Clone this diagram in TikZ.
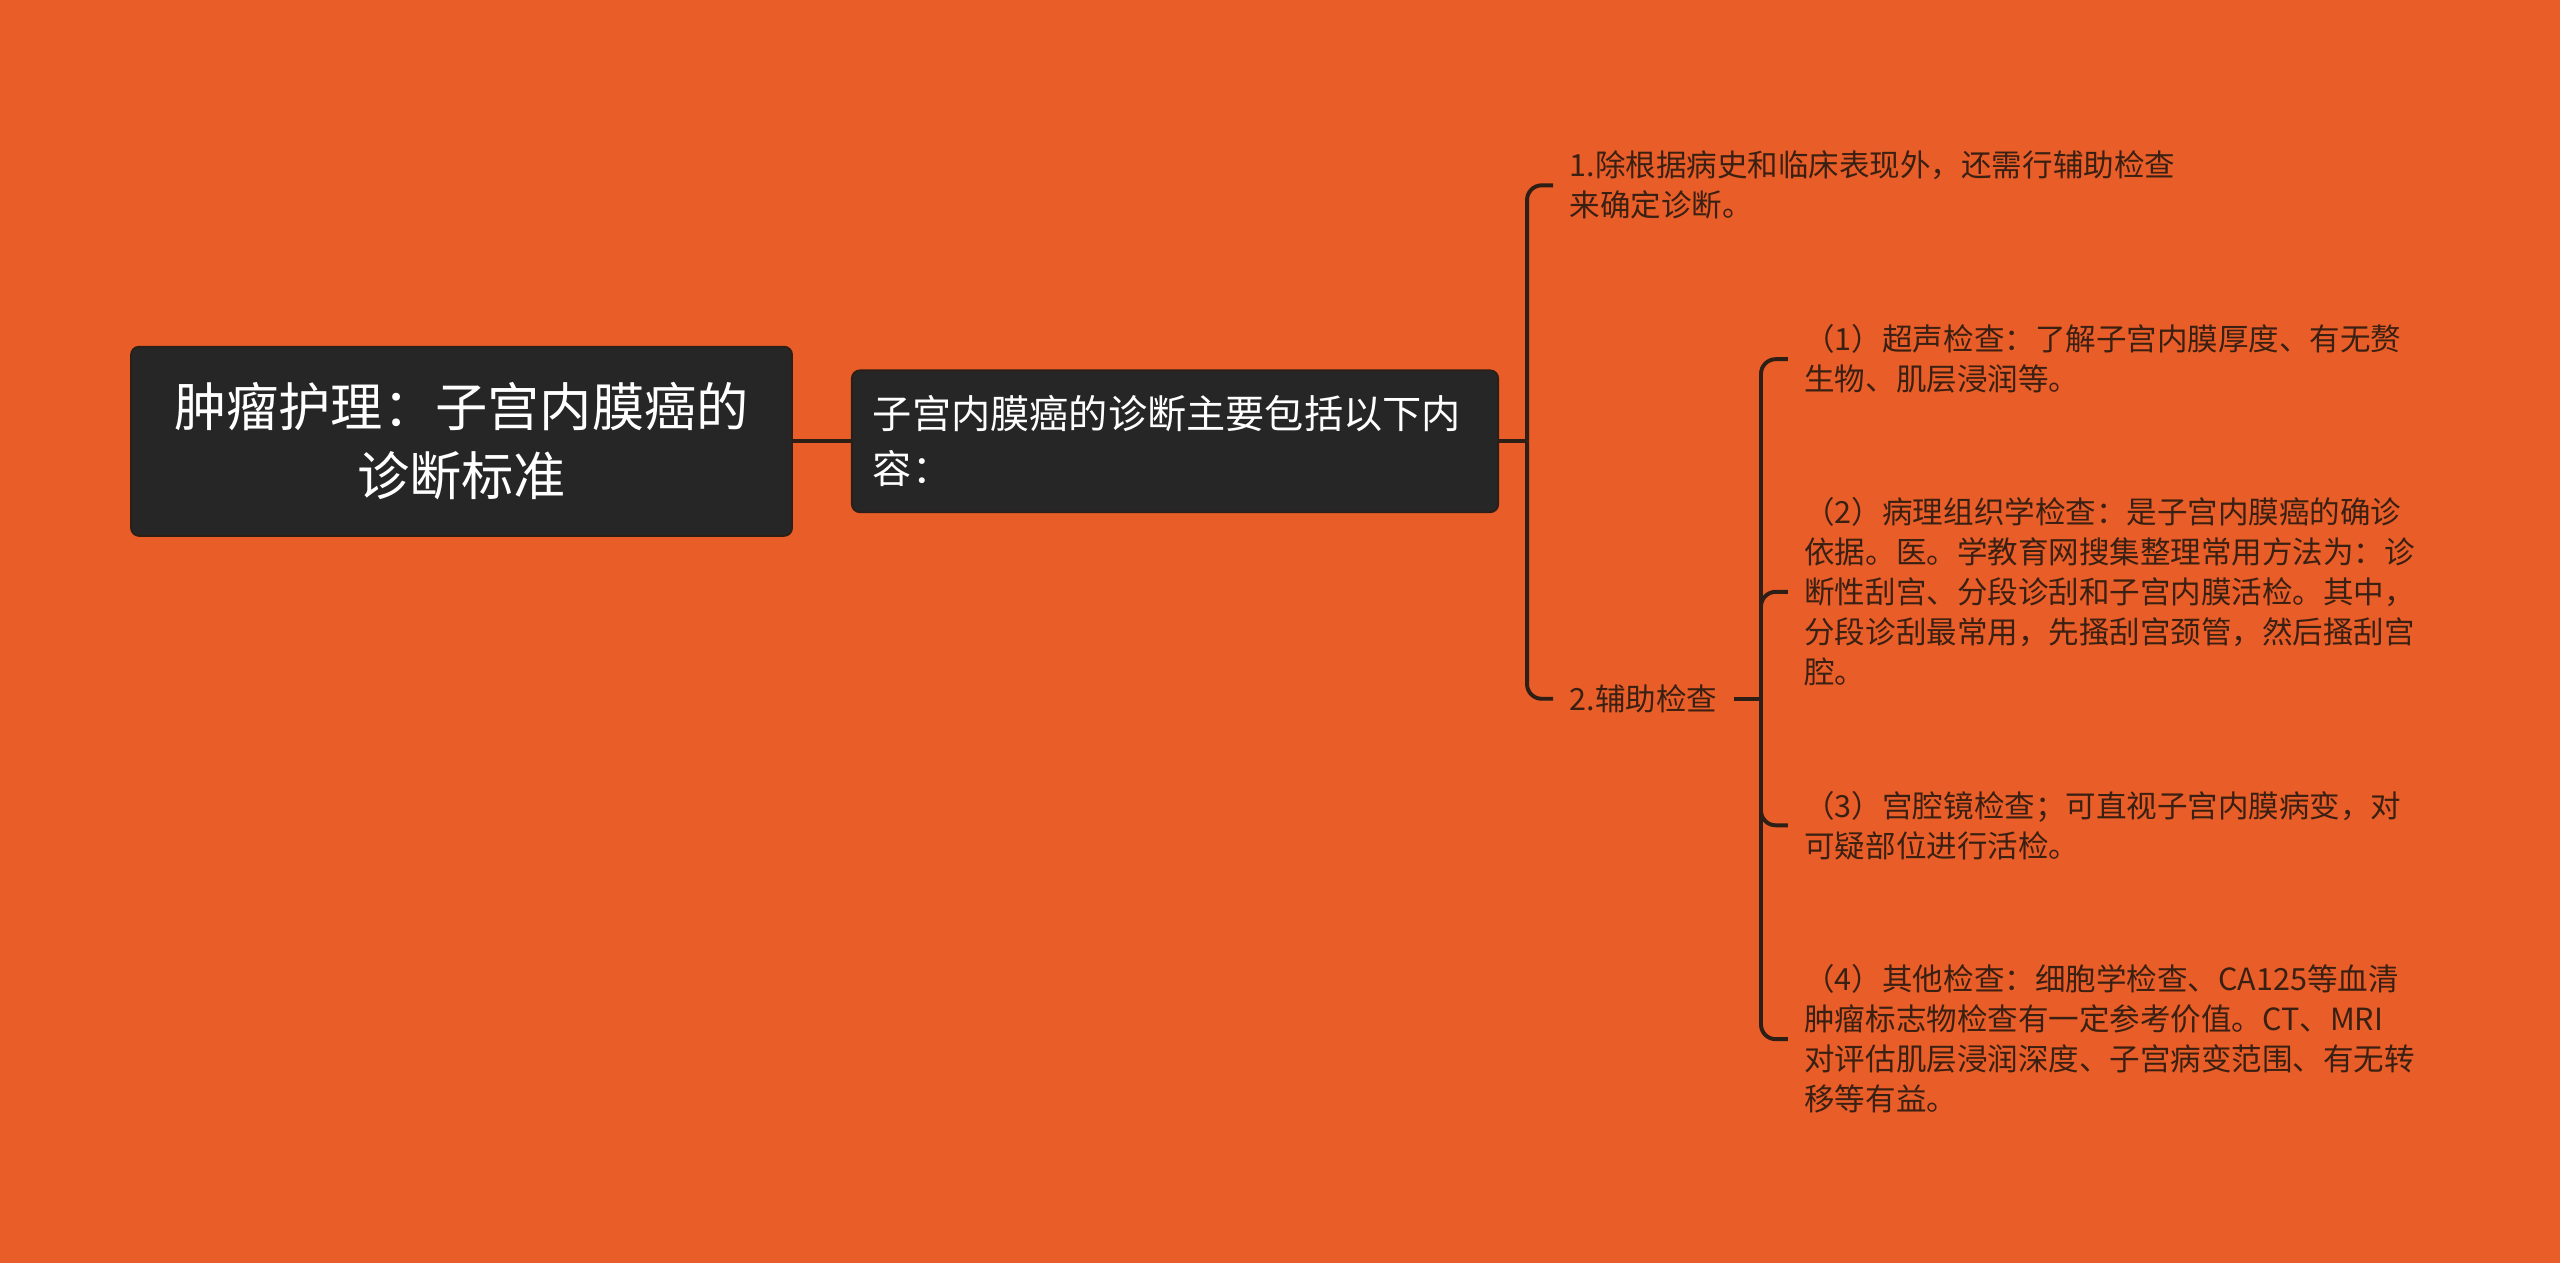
\documentclass[tikz,border=0pt]{standalone}
\usepackage{fontspec}
\setmainfont{Noto Sans CJK SC}
\usetikzlibrary{positioning}
\definecolor{bgorange}{RGB}{233,93,40}
\definecolor{boxdark}{RGB}{38,38,38}
\definecolor{linedark}{RGB}{45,30,22}
\definecolor{leaftext}{RGB}{58,32,18}
\tikzstyle{rootbox} = [rectangle, rounded corners=5pt, minimum width=405pt, minimum height=116pt, align=center, draw=linedark, line width=1pt, fill=boxdark, text=white, font=\fontsize{32pt}{42pt}\selectfont]
\tikzstyle{mainbox} = [rectangle, rounded corners=5pt, text width=370pt, inner xsep=13pt, minimum height=87pt, align=left, draw=linedark, line width=1pt, fill=boxdark, text=white, font=\fontsize{24pt}{33.5pt}\selectfont]
\tikzstyle{leaf} = [anchor=west, inner xsep=10pt, inner ysep=2pt, align=left, text=leaftext, font=\fontsize{18.7pt}{24.5pt}\selectfont]
\tikzstyle{link} = [line width=2.4pt, draw=linedark]
\tikzstyle{brace} = [link, rounded corners=9pt]
\begin{document}
\begin{tikzpicture}[x=1pt, y=1pt]
\fill[bgorange] (0,0) rectangle (1568,-773.6);
\useasboundingbox (0,0) rectangle (1568,-773.6);

\node (root) [rootbox] at (282.7,-270.3) {肿瘤护理：子宫内膜癌的\\诊断标准};
\node (main) [mainbox, right=35.5pt of root] {子宫内膜癌的诊断主要包括以下内\\容：};

\coordinate (fork1) at (935.3,-270.3);
\coordinate (fork2) at (1078.6,-428);

\node (hist) [leaf] at (951.2,-113.5) {1.除根据病史和临床表现外，还需行辅助检查\\来确定诊断。};
\node (aux) [leaf] at (951.2,-428) {2.辅助检查};
\node (ultra) [leaf] at (1095,-220) {（1）超声检查：了解子宫内膜厚度、有无赘\\生物、肌层浸润等。};
\node (patho) [leaf] at (1095,-362.5) {（2）病理组织学检查：是子宫内膜癌的确诊\\依据。医。学教育网搜集整理常用方法为：诊\\断性刮宫、分段诊刮和子宫内膜活检。其中，\\分段诊刮最常用，先搔刮宫颈管，然后搔刮宫\\腔。};
\node (scope) [leaf] at (1095,-505.5) {（3）宫腔镜检查；可直视子宫内膜病变，对\\可疑部位进行活检。};
\node (other) [leaf] at (1095,-636.5) {（4）其他检查：细胞学检查、CA125等血清\\肿瘤标志物检查有一定参考价值。CT、MRI\\对评估肌层浸润深度、子宫病变范围、有无转\\移等有益。};

\draw [link] (root) -- (main);
\draw [link] (main) -- (fork1);
\draw [brace] (fork1) |- (hist);
\draw [brace] (fork1) |- (aux);
\draw [link] (aux) -- (fork2);
\draw [brace] (fork2) |- (ultra);
\draw [brace] (fork2) |- (patho);
\draw [brace] (fork2) |- (scope);
\draw [brace] (fork2) |- (other);

\end{tikzpicture}
\end{document}
